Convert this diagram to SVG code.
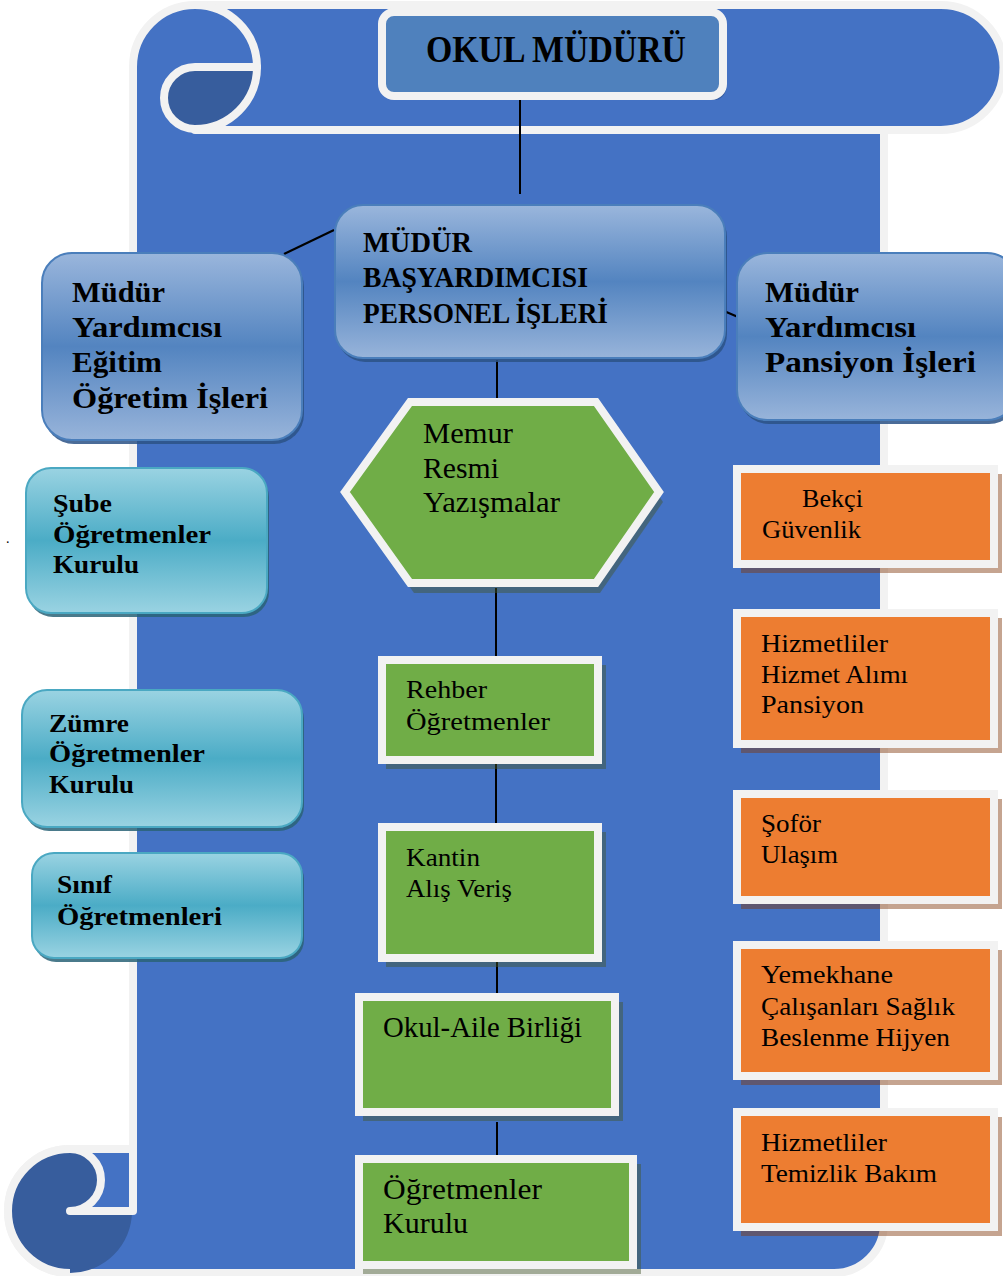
<svg xmlns="http://www.w3.org/2000/svg" width="1003" height="1276" viewBox="0 0 1003 1276">
<defs>
<linearGradient id="gBlue" x1="0" y1="0" x2="0" y2="1">
<stop offset="0" stop-color="#9ab6dc"/><stop offset="0.5" stop-color="#5384c0"/><stop offset="1" stop-color="#98b4da"/>
</linearGradient>
<linearGradient id="gTeal" x1="0" y1="0" x2="0" y2="1">
<stop offset="0" stop-color="#9ad3e2"/><stop offset="0.5" stop-color="#4bacc6"/><stop offset="1" stop-color="#9ad3e2"/>
</linearGradient>
</defs>
<style>
.w{fill:none;stroke:#f2f2f2;stroke-width:8;stroke-linecap:round;stroke-linejoin:round}
.dark{fill:#375d9d}
.conn{stroke:#000;stroke-width:2;fill:none}
.bx{fill:url(#gBlue);stroke:#4a7ebb;stroke-width:2}
.bsh{fill:#2c5286;opacity:.85}
.tx{fill:url(#gTeal);stroke:#4aa8c2;stroke-width:2}
.tsh{fill:#2a6377;opacity:.85}
.gr{fill:#70ad47;stroke:#f2f2f2;stroke-width:8}
.gsh{fill:#44582c;opacity:.46}
.or{fill:#ed7d31;stroke:#f2f2f2;stroke-width:8}
.osh{fill:#81390c;opacity:.46}
.b{font-family:"Liberation Serif","Times New Roman",serif;font-weight:bold;fill:#000}
.n{font-family:"Liberation Serif","Times New Roman",serif;fill:#000}
</style>
<rect width="1003" height="1276" fill="#ffffff"/>
<g id="scroll">
<path d="M133,67 A62,62 0 0 1 195,5 L941,5 A62.5,62.5 0 0 1 941,130 L884,130 L884,1223 A50,50 0 0 1 834,1273 L70,1273 A62,62 0 0 1 8,1211 A62,62 0 0 1 70,1149 L133,1149 Z" fill="#4472c4" stroke="#f2f2f2" stroke-width="8" stroke-linejoin="round"/>
<path class="dark" d="M195,67 L257,67 A62,62 0 0 1 195,129 A31,31 0 0 1 195,67 Z"/>
<path class="w" d="M195,5 A62,62 0 0 1 257,67 A62,62 0 0 1 195,129"/>
<path class="w" d="M257,67 L195,67 A31,31 0 0 0 195,129"/>
<line class="w" x1="195" y1="130" x2="884" y2="130"/>
<path class="dark" d="M70,1211 L132,1211 A62,62 0 0 1 70,1273 A62,62 0 0 1 8,1211 A62,62 0 0 1 70,1149 A31,31 0 0 1 70,1211 Z"/>
<path class="w" d="M70,1149 A31,31 0 0 1 70,1211 L133,1211 L133,1149"/>
<path d="M70,1273 A62,62 0 0 1 8,1211 A62,62 0 0 1 70,1149" fill="none" stroke="#f2f2f2" stroke-width="8"/>
</g>
<g id="connectors">
<line class="conn" x1="520" y1="100" x2="520" y2="194"/>
<line class="conn" x1="334" y1="230" x2="284" y2="254"/>
<line class="conn" x1="724" y1="311" x2="738" y2="317"/>
<line class="conn" x1="497" y1="360" x2="497" y2="400"/>
<line class="conn" x1="496" y1="588" x2="496" y2="660"/>
<line class="conn" x1="496" y1="762" x2="496" y2="827"/>
<line class="conn" x1="497" y1="957" x2="497" y2="997"/>
<line class="conn" x1="497" y1="1122" x2="497" y2="1159"/>
</g>
<g id="okul-muduru">
<rect x="385" y="16" width="341" height="84" rx="12" fill="#2f5597" opacity=".8"/>
<rect x="382" y="12" width="341" height="84" rx="12" fill="#4f81bd" stroke="#f2f2f2" stroke-width="8"/>
<text class="b" x="426" y="62" font-size="38" textLength="260" lengthAdjust="spacingAndGlyphs">OKUL MÜDÜRÜ</text>
</g>
<g id="mudur-basyardimcisi">
<rect class="bsh" x="337" y="209" width="390" height="153" rx="28"/>
<rect class="bx" x="335" y="205" width="390" height="153" rx="28"/>
<text class="b" font-size="29"><tspan x="363" y="252" textLength="109" lengthAdjust="spacingAndGlyphs">MÜDÜR</tspan><tspan x="363" y="287" textLength="225" lengthAdjust="spacingAndGlyphs">BAŞYARDIMCISI</tspan><tspan x="363" y="323" textLength="245" lengthAdjust="spacingAndGlyphs">PERSONEL İŞLERİ</tspan></text>
</g>
<g id="mudur-yardimcisi-egitim">
<rect class="bsh" x="44" y="257" width="260" height="187" rx="30"/>
<rect class="bx" x="42" y="253" width="260" height="187" rx="30"/>
<text class="b" font-size="29"><tspan x="72" y="302" textLength="93" lengthAdjust="spacingAndGlyphs">Müdür</tspan><tspan x="72" y="337" textLength="150" lengthAdjust="spacingAndGlyphs">Yardımcısı</tspan><tspan x="72" y="372" textLength="90" lengthAdjust="spacingAndGlyphs">Eğitim</tspan><tspan x="72" y="408" textLength="196" lengthAdjust="spacingAndGlyphs">Öğretim İşleri</tspan></text>
</g>
<g id="mudur-yardimcisi-pansiyon">
<rect class="bsh" x="739" y="257" width="280" height="167" rx="30"/>
<rect class="bx" x="737" y="253" width="280" height="167" rx="30"/>
<text class="b" font-size="29"><tspan x="765" y="302" textLength="94" lengthAdjust="spacingAndGlyphs">Müdür</tspan><tspan x="765" y="337" textLength="151" lengthAdjust="spacingAndGlyphs">Yardımcısı</tspan><tspan x="765" y="372" textLength="211" lengthAdjust="spacingAndGlyphs">Pansiyon İşleri</tspan></text>
</g>
<g id="sube-ogretmenler-kurulu">
<rect class="tsh" x="28" y="472" width="241" height="145" rx="25"/>
<rect class="tx" x="26" y="468" width="241" height="145" rx="25"/>
<text class="b" font-size="25"><tspan x="53" y="512" textLength="59" lengthAdjust="spacingAndGlyphs">Şube</tspan><tspan x="53" y="543" textLength="158" lengthAdjust="spacingAndGlyphs">Öğretmenler</tspan><tspan x="53" y="573" textLength="86" lengthAdjust="spacingAndGlyphs">Kurulu</tspan></text>
</g>
<text class="n" x="6" y="543" font-size="14">.</text>
<g id="zumre-ogretmenler-kurulu">
<rect class="tsh" x="24" y="694" width="280" height="137" rx="25"/>
<rect class="tx" x="22" y="690" width="280" height="137" rx="25"/>
<text class="b" font-size="25"><tspan x="49" y="732" textLength="80" lengthAdjust="spacingAndGlyphs">Zümre</tspan><tspan x="49" y="762" textLength="156" lengthAdjust="spacingAndGlyphs">Öğretmenler</tspan><tspan x="49" y="793" textLength="85" lengthAdjust="spacingAndGlyphs">Kurulu</tspan></text>
</g>
<g id="sinif-ogretmenleri">
<rect class="tsh" x="34" y="857" width="270" height="105" rx="22"/>
<rect class="tx" x="32" y="853" width="270" height="105" rx="22"/>
<text class="b" font-size="25"><tspan x="57" y="893" textLength="55" lengthAdjust="spacingAndGlyphs">Sınıf</tspan><tspan x="57" y="925" textLength="165" lengthAdjust="spacingAndGlyphs">Öğretmenleri</tspan></text>
</g>
<g id="memur">
<polygon class="gsh" points="345,497 410,402 596,402 659,497 596,588 410,588" transform="translate(4,5)"/>
<polygon class="gr" points="345,492 410,402 596,402 659,492 596,583 410,583"/>
<text class="n" font-size="29"><tspan x="423" y="443" textLength="90" lengthAdjust="spacingAndGlyphs">Memur</tspan><tspan x="423" y="478" textLength="76" lengthAdjust="spacingAndGlyphs">Resmi</tspan><tspan x="423" y="512" textLength="137" lengthAdjust="spacingAndGlyphs">Yazışmalar</tspan></text>
</g>
<g id="rehber">
<rect class="gsh" x="386" y="665" width="220" height="104"/>
<rect class="gr" x="382" y="660" width="216" height="100"/>
<text class="n" font-size="25"><tspan x="406" y="698" textLength="81" lengthAdjust="spacingAndGlyphs">Rehber</tspan><tspan x="406" y="730" textLength="144" lengthAdjust="spacingAndGlyphs">Öğretmenler</tspan></text>
</g>
<g id="kantin">
<rect class="gsh" x="386" y="832" width="220" height="135"/>
<rect class="gr" x="382" y="827" width="216" height="131"/>
<text class="n" font-size="26"><tspan x="406" y="866" textLength="74" lengthAdjust="spacingAndGlyphs">Kantin</tspan><tspan x="406" y="897" textLength="106" lengthAdjust="spacingAndGlyphs">Alış Veriş</tspan></text>
</g>
<g id="okul-aile">
<rect class="gsh" x="363" y="1002" width="260" height="119"/>
<rect class="gr" x="359" y="997" width="256" height="115"/>
<text class="n" x="383" y="1037" font-size="30" textLength="199" lengthAdjust="spacingAndGlyphs">Okul-Aile Birliği</text>
</g>
<g id="ogretmenler-kurulu">
<rect class="gsh" x="363" y="1164" width="278" height="110"/>
<rect class="gr" x="359" y="1159" width="274" height="106"/>
<text class="n" font-size="29"><tspan x="383" y="1199" textLength="159" lengthAdjust="spacingAndGlyphs">Öğretmenler</tspan><tspan x="383" y="1233" textLength="85" lengthAdjust="spacingAndGlyphs">Kurulu</tspan></text>
</g>
<g id="bekci">
<rect class="osh" x="741" y="474" width="261" height="99"/>
<rect class="or" x="737" y="469" width="257" height="95"/>
<text class="n" font-size="26"><tspan x="802" y="507" textLength="61" lengthAdjust="spacingAndGlyphs">Bekçi</tspan><tspan x="762" y="538" textLength="99" lengthAdjust="spacingAndGlyphs">Güvenlik</tspan></text>
</g>
<g id="hizmetliler-pansiyon">
<rect class="osh" x="741" y="618" width="261" height="135"/>
<rect class="or" x="737" y="613" width="257" height="131"/>
<text class="n" font-size="26"><tspan x="761" y="652" textLength="127" lengthAdjust="spacingAndGlyphs">Hizmetliler</tspan><tspan x="761" y="683" textLength="147" lengthAdjust="spacingAndGlyphs">Hizmet Alımı</tspan><tspan x="761" y="713" textLength="103" lengthAdjust="spacingAndGlyphs">Pansiyon</tspan></text>
</g>
<g id="sofor">
<rect class="osh" x="741" y="799" width="261" height="110"/>
<rect class="or" x="737" y="794" width="257" height="106"/>
<text class="n" font-size="26"><tspan x="761" y="832" textLength="60" lengthAdjust="spacingAndGlyphs">Şoför</tspan><tspan x="761" y="863" textLength="77" lengthAdjust="spacingAndGlyphs">Ulaşım</tspan></text>
</g>
<g id="yemekhane">
<rect class="osh" x="741" y="950" width="261" height="135"/>
<rect class="or" x="737" y="945" width="257" height="131"/>
<text class="n" font-size="26"><tspan x="761" y="983" textLength="132" lengthAdjust="spacingAndGlyphs">Yemekhane</tspan><tspan x="761" y="1015" textLength="194" lengthAdjust="spacingAndGlyphs">Çalışanları Sağlık</tspan><tspan x="761" y="1046" textLength="189" lengthAdjust="spacingAndGlyphs">Beslenme Hijyen</tspan></text>
</g>
<g id="hizmetliler-temizlik">
<rect class="osh" x="741" y="1117" width="261" height="119"/>
<rect class="or" x="737" y="1112" width="257" height="115"/>
<text class="n" font-size="26"><tspan x="761" y="1151" textLength="126" lengthAdjust="spacingAndGlyphs">Hizmetliler</tspan><tspan x="761" y="1182" textLength="176" lengthAdjust="spacingAndGlyphs">Temizlik Bakım</tspan></text>
</g>
</svg>
